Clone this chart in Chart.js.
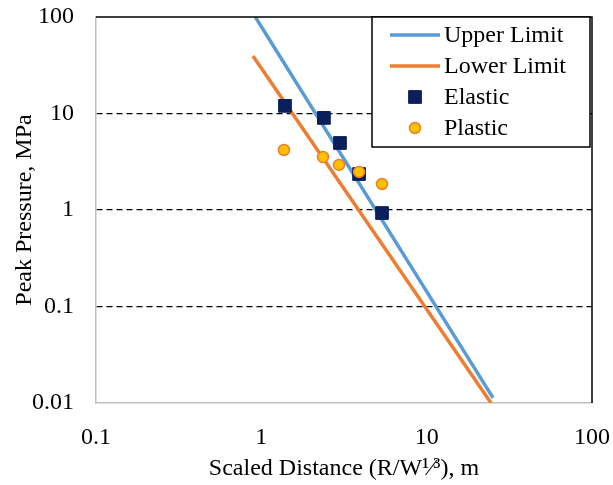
<!DOCTYPE html>
<html>
<head>
<meta charset="utf-8">
<title>Peak Pressure vs Scaled Distance</title>
<script src="https://cdn.jsdelivr.net/npm/chart.js@4.4.1/dist/chart.umd.min.js"></script>
<style>
  html, body { margin: 0; padding: 0; background: #fff; }
  #wrap { position: relative; width: 613px; height: 485px; }
</style>
</head>
<body>
<div id="wrap"><canvas id="pressureChart"></canvas></div>
<script>
// Limit lines (scaled distance, peak pressure)
const upperX = [0.92, 25.2];
const upperY = [100, 0.0113];
const lowerX = [0.89, 24.5];
const lowerY = [39.4, 0.01];

// Measured points
const elasticX = [1.39, 2.39, 2.99, 3.90, 5.37];
const elasticY = [12.0, 9.0, 4.95, 2.36, 0.93];
const plasticX = [1.37, 2.36, 2.95, 3.90, 5.37];
const plasticY = [4.19, 3.54, 2.93, 2.48, 1.86];

// Axis ticks
const xTicks = [0.1, 1, 10, 100];
const yTicks = [0.01, 0.1, 1, 10, 100];
const yGridLines = [0.1, 1, 10];

const BLUE = '#5b9bd5';
const ORANGE = '#ed7d31';
const NAVY = '#0b1f5c';
const GOLD = '#ffc000';
const FONT = 'Liberation Serif';
const FONT_SIZE = 24;

const toPoints = (xs, ys) => xs.map((x, i) => ({ x: x, y: ys[i] }));

// Frame on top and right of the plot area
const frame = {
  id: 'frame',
  afterDatasetsDraw(chart) {
    const { ctx, chartArea: a } = chart;
    ctx.save();
    ctx.strokeStyle = '#000';
    ctx.lineWidth = 1.5;
    ctx.beginPath();
    ctx.moveTo(a.left, a.top);
    ctx.lineTo(a.right, a.top);
    ctx.lineTo(a.right, a.bottom);
    ctx.stroke();
    ctx.restore();
  }
};

// Boxed legend in the upper right corner of the plot
const boxLegend = {
  id: 'boxLegend',
  afterDraw(chart) {
    const { ctx, chartArea: a } = chart;
    const left = a.right - 220, top = a.top, w = 218, h = 130;
    ctx.save();
    ctx.fillStyle = '#fff';
    ctx.fillRect(left, top, w, h);
    ctx.strokeStyle = '#000';
    ctx.lineWidth = 1.5;
    ctx.strokeRect(left, top, w, h);

    ctx.font = FONT_SIZE + 'px "' + FONT + '"';
    ctx.textBaseline = 'middle';
    chart.data.datasets.forEach((ds, i) => {
      const y = top + 18 + i * 31;
      const sx = left + 18;
      if (ds.showLine) {
        ctx.strokeStyle = ds.borderColor;
        ctx.lineWidth = ds.borderWidth;
        ctx.beginPath();
        ctx.moveTo(sx, y);
        ctx.lineTo(sx + 50, y);
        ctx.stroke();
      } else {
        ctx.fillStyle = ds.pointBackgroundColor;
        ctx.strokeStyle = ds.pointBorderColor;
        ctx.lineWidth = ds.pointBorderWidth;
        Chart.helpers.drawPoint(ctx, {
          pointStyle: ds.pointStyle,
          radius: ds.pointRadius,
          borderWidth: ds.pointBorderWidth
        }, sx + 25, y);
      }
      ctx.fillStyle = '#000';
      ctx.fillText(ds.label, sx + 54, y + 1);
    });
    ctx.restore();
  }
};

const ctx = document.getElementById('pressureChart');

new Chart(ctx, {
  type: 'scatter',
  data: {
    datasets: [
      {
        label: 'Upper Limit',
        data: toPoints(upperX, upperY),
        showLine: true,
        borderColor: BLUE,
        borderWidth: 3.5,
        pointRadius: 0,
        order: 3
      },
      {
        label: 'Lower Limit',
        data: toPoints(lowerX, lowerY),
        showLine: true,
        borderColor: ORANGE,
        borderWidth: 3.5,
        pointRadius: 0,
        order: 4
      },
      {
        label: 'Elastic',
        data: toPoints(elasticX, elasticY),
        showLine: false,
        pointStyle: 'rect',
        pointRadius: 9,
        pointBackgroundColor: NAVY,
        pointBorderColor: NAVY,
        pointBorderWidth: 1,
        order: 2
      },
      {
        label: 'Plastic',
        data: toPoints(plasticX, plasticY),
        showLine: false,
        pointStyle: 'circle',
        pointRadius: 5.5,
        pointBackgroundColor: GOLD,
        pointBorderColor: ORANGE,
        pointBorderWidth: 1.5,
        order: 1
      }
    ]
  },
  options: {
    responsive: true,
    maintainAspectRatio: false,
    animation: false,
    layout: { padding: { top: 17, right: 21, left: 0, bottom: 0 } },
    plugins: {
      legend: { display: false },
      tooltip: { enabled: false }
    },
    scales: {
      x: {
        type: 'logarithmic',
        min: 0.1,
        max: 100,
        afterBuildTicks: (axis) => { axis.ticks = xTicks.map(v => ({ value: v })); },
        afterFit: (axis) => {
          axis.height = 82;
          axis.paddingLeft = 0;
          axis.paddingRight = 0;
        },
        grid: { display: false, drawTicks: false },
        border: { color: '#bfbfbf', width: 1.5 },
        ticks: {
          padding: 20,
          maxRotation: 0,
          color: '#000',
          font: { family: FONT, size: FONT_SIZE },
          callback: (v) => String(v)
        },
        title: {
          display: true,
          text: 'Scaled Distance (R/W\u00B9\u2044\u00B3), m',
          color: '#000',
          font: { family: FONT, size: FONT_SIZE },
          padding: { top: 0, bottom: 2 }
        }
      },
      y: {
        type: 'logarithmic',
        min: 0.01,
        max: 100,
        afterBuildTicks: (axis) => { axis.ticks = yTicks.map(v => ({ value: v })); },
        afterFit: (axis) => {
          axis.width = 96;
          axis.paddingTop = 0;
          axis.paddingBottom = 0;
        },
        grid: {
          drawTicks: false,
          lineWidth: 1.2,
          color: (c) => (c.tick && yGridLines.includes(c.tick.value)) ? '#000' : 'rgba(0,0,0,0)'
        },
        border: { color: '#bfbfbf', width: 1.5, dash: [6, 4] },
        ticks: {
          padding: 22,
          color: '#000',
          font: { family: FONT, size: FONT_SIZE },
          callback: (v) => String(v)
        },
        title: {
          display: true,
          text: 'Peak Pressure, MPa',
          color: '#000',
          font: { family: FONT, size: FONT_SIZE },
          padding: { top: 10, bottom: 0 }
        }
      }
    }
  },
  plugins: [frame, boxLegend]
});
</script>
</body>
</html>
